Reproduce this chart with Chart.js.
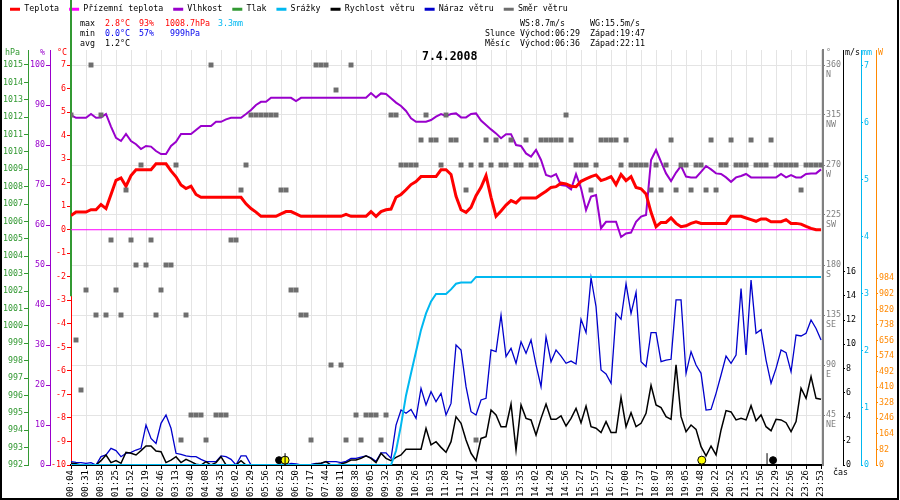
<!DOCTYPE html>
<html>
<head>
<meta charset="utf-8">
<title>Meteo 7.4.2008</title>
<script src="https://cdn.jsdelivr.net/npm/chart.js@4.4.0/dist/chart.umd.min.js"></script>
<style>
  html, body { margin: 0; padding: 0; background: #fff; }
</style>
</head>
<body>
<canvas id="meteo" width="900" height="500"></canvas>
<script>
// popisky osy X - jeden popisek na kazde 3 vzorky
const timeLabels = ['00:04','00:31','00:58','01:25','01:52','02:19','02:46','03:13','03:40','04:08',
  '04:35','05:02','05:29','05:56','06:23','06:50','07:17','07:44','08:11','08:38',
  '09:05','09:32','09:59','10:26','10:53','11:20','11:47','12:14','12:44','13:08',
  '13:35','14:02','14:29','14:56','15:27','15:57','16:27','17:00','17:37','18:07',
  '18:38','19:05','19:48','20:22','20:52','21:25','21:56','22:29','22:56','23:26','23:53'];
const SUB = 3; // vzorku na jeden popisek

// teplota (°C)
const teplota = [
  0.6, 0.75, 0.75, 0.75, 0.85, 0.85, 1.07, 0.9, 1.5, 2.1,
  2.2, 1.85, 2.3, 2.55, 2.55, 2.55, 2.55, 2.8, 2.8, 2.8,
  2.5, 2.25, 1.9, 1.75, 1.85, 1.5, 1.38, 1.38, 1.38, 1.38,
  1.38, 1.38, 1.38, 1.38, 1.38, 1.1, 0.9, 0.75, 0.57, 0.57,
  0.57, 0.57, 0.67, 0.77, 0.77, 0.67, 0.57, 0.57, 0.57, 0.57,
  0.57, 0.57, 0.57, 0.57, 0.57, 0.65, 0.57, 0.57, 0.57, 0.57,
  0.77, 0.57, 0.77, 0.85, 0.88, 1.38, 1.5, 1.7, 1.92, 2.05,
  2.26, 2.26, 2.26, 2.26, 2.55, 2.55, 2.35, 1.42, 0.85, 0.74,
  0.95, 1.45, 1.8, 2.3, 1.38, 0.57, 0.8, 1.05, 1.24, 1.14,
  1.35, 1.35, 1.35, 1.35, 1.5, 1.64, 1.8, 1.83, 1.98, 1.95,
  1.85, 1.83, 2.06, 2.16, 2.26, 2.33, 2.09, 2.16, 2.26, 1.92,
  2.35, 2.09, 2.26, 1.8, 1.74, 1.52, 0.74, 0.13, 0.31, 0.31,
  0.5, 0.27, 0.13, 0.17, 0.27, 0.34, 0.27, 0.27, 0.27, 0.27,
  0.27, 0.27, 0.57, 0.57, 0.57, 0.5, 0.43, 0.36, 0.46, 0.46,
  0.34, 0.34, 0.34, 0.43, 0.27, 0.27, 0.24, 0.14, 0.06, 0.0, 0.0
];

// prizemni teplota (°C) - po popiscich
const prizemniTeplota = [0,0,0,0,0,0,0,0,0,0, 0,0,0,0,0,0,0,0,0,0, 0,0,0,0,0,0,0,0,0,0,
  0,0,0,0,0,0,0,0,0,0, 0,0,0,0,0,0,0,0,0,0, 0];

// vlhkost (%)
const vlhkost = [
  87.5, 86.8, 86.8, 86.8, 87.75, 86.8, 86.9, 87.75, 84.6, 81.8,
  81, 82.75, 81, 80.2, 79, 79.75, 79.6, 78.5, 77.75, 77.75,
  79.75, 80.8, 82.75, 82.75, 82.75, 83.75, 84.75, 84.75, 84.75, 85.8,
  85.8, 86.4, 86.8, 86.8, 86.8, 87.75, 88.75, 90, 90.8, 90.8,
  91.8, 91.8, 91.8, 91.8, 91.8, 91, 91.8, 91.8, 91.8, 91.8,
  91.8, 91.8, 91.8, 91.8, 91.8, 91.8, 91.8, 91.8, 91.8, 91.8,
  93, 91.9, 92.9, 92.75, 91.7, 90.6, 89.75, 88.5, 86.7, 85.8,
  85.8, 85.8, 86.25, 87.1, 87.75, 87.25, 87.75, 87.9, 86.9, 86.9,
  87.75, 87.9, 86.1, 85, 83.9, 82.9, 81.7, 82.7, 82.7, 80,
  79.75, 77.9, 77.1, 78.75, 76.25, 72.5, 72.1, 72.7, 70, 69.8,
  68.9, 72.7, 69.2, 63.75, 67.1, 67.5, 59.2, 60.8, 60.8, 60.8,
  57, 57.9, 58.1, 60.8, 62.1, 62.5, 76.25, 78.75, 75.8, 72.9,
  71, 73.1, 74.75, 72.1, 71.9, 71.9, 73.3, 74.75, 73.9, 72.9,
  72.75, 71.9, 70.8, 71.9, 72.25, 72.75, 71.9, 71.9, 71.9, 71.9,
  71.9, 71.9, 72.75, 71.9, 72.5, 71.9, 71.9, 72.75, 72.9, 72.9, 73.9
];

// tlak (hPa) - jen svisla cara u prvniho vzorku
const tlakX = [0, 0];
const tlak = [1020, 1001.7];

// srazky (mm, kumulativne)
const srazky = [
  0, 0, 0, 0, 0, 0, 0, 0, 0, 0,
  0, 0, 0, 0, 0, 0, 0, 0, 0, 0,
  0, 0, 0, 0, 0, 0, 0, 0, 0, 0,
  0, 0, 0, 0, 0, 0, 0, 0, 0, 0,
  0, 0, 0, 0, 0, 0, 0, 0, 0, 0,
  0, 0, 0, 0, 0, 0, 0, 0, 0, 0,
  0, 0, 0, 0, 0, 0.25, 0.7, 1.22, 1.61, 1.99,
  2.37, 2.66, 2.87, 3.0, 3.0, 3.0, 3.08, 3.18, 3.2, 3.2,
  3.2, 3.3, 3.3, 3.3, 3.3, 3.3, 3.3, 3.3, 3.3, 3.3,
  3.3, 3.3, 3.3, 3.3, 3.3, 3.3, 3.3, 3.3, 3.3, 3.3,
  3.3, 3.3, 3.3, 3.3, 3.3, 3.3, 3.3, 3.3, 3.3, 3.3,
  3.3, 3.3, 3.3, 3.3, 3.3, 3.3, 3.3, 3.3, 3.3, 3.3,
  3.3, 3.3, 3.3, 3.3, 3.3, 3.3, 3.3, 3.3, 3.3, 3.3,
  3.3, 3.3, 3.3, 3.3, 3.3, 3.3, 3.3, 3.3, 3.3, 3.3,
  3.3, 3.3, 3.3, 3.3, 3.3, 3.3, 3.3, 3.3, 3.3, 3.3, 3.3
];

// rychlost vetru (m/s)
const rychlost = [
  0.14, 0.1, 0, 0, 0, 0, 0.36, 0.83, 0.2, 0.36,
  0.14, 1.05, 0.97, 0.83, 1.19, 1.57, 1.57, 1.16, 1.1, 0.2,
  0.41, 0.69, 0.2, 0.47, 0.28, 0.06, 0, 0.28, 0, 0.2,
  0.69, 0, 0, 0, 0.36, 0, 0, 0, 0, 0,
  0, 0, 0, 0, 0, 0, 0, 0, 0, 0.08,
  0.14, 0.28, 0, 0, 0.08, 0.2, 0.41, 0.41, 0.55, 0.75,
  0.55, 0.2, 0.97, 0.55, 0.36, 0.63, 0.83, 1.3, 1.3, 1.3,
  1.3, 3.03, 1.66, 1.93, 1.46, 1.05, 1.93, 4.0, 3.45, 2.07,
  0.97, 0.36, 2.2, 2.35, 4.55, 4.14, 3.17, 3.17, 5.05, 1.24,
  4.97, 3.86, 3.73, 2.48, 3.86, 5.05, 3.78, 3.78, 4.06, 3.23,
  3.86, 4.69, 3.5, 4.88, 3.17, 3.04, 2.68, 3.59, 2.68, 2.68,
  5.6, 3.17, 4.33, 3.17, 3.45, 4.28, 6.6, 4.97, 4.75, 4.0,
  3.78, 8.3, 4.0, 2.76, 3.31, 2.95, 1.52, 0.75, 1.57, 0.83,
  2.9, 4.5, 4.39, 3.73, 3.86, 3.73, 4.91, 3.67, 4.14, 3.17,
  2.84, 3.78, 3.73, 3.5, 2.76, 3.59, 6.35, 5.52, 7.31, 5.52, 5.44
];

// naraz vetru (m/s)
const naraz = [
  0.28, 0.22, 0.2, 0.14, 0.2, 0, 0.69, 0.83, 1.38, 1.19,
  0.69, 0.97, 1.05, 1.24, 1.38, 3.31, 2.2, 1.79, 3.45, 4.14,
  3.04, 0.97, 0.88, 0.75, 0.69, 0.69, 0.47, 0.28, 0.28, 0.28,
  0.75, 0.69, 0.47, 0, 0.75, 0.75, 0, 0, 0, 0,
  0, 0, 0, 0, 0.14, 0.1, 0, 0, 0.05, 0.14,
  0.14, 0.28, 0.28, 0.28, 0.2, 0.3, 0.55, 0.55, 0.65, 0.75,
  0.6, 0.3, 1.0, 1.0, 0.55, 3.3, 4.55, 4.28, 4.6, 3.86,
  6.35, 4.97, 6.07, 5.24, 5.93, 4.14, 5.1, 9.93, 9.52, 6.48,
  4.41, 4.14, 5.38, 5.52, 9.52, 9.38, 12.4, 8.97, 9.66, 8.42,
  10.2, 9.24, 10.35, 8.28, 6.48, 10.6, 8.55, 9.52, 9.02, 8.42,
  8.6, 8.36, 12.06, 10.95, 15.5, 13.1, 7.86, 7.53, 6.76, 12.55,
  12.06, 15.0, 12.55, 14.3, 8.55, 8.14, 10.95, 10.95, 8.55, 8.69,
  8.75, 13.66, 13.66, 7.59, 9.38, 8.28, 7.59, 4.55, 4.6, 5.93,
  7.45, 9.02, 8.42, 9.1, 14.6, 9.1, 15.3, 10.9, 11.2, 8.69,
  6.76, 8.0, 9.52, 9.3, 7.73, 10.76, 10.68, 10.9, 12.0, 11.3, 10.35
];

// smer vetru (°)
const smer = [
  315, 112.5, 67.5, 157.5, 360, 135, 315, 135, 202.5, 157.5,
  135, 247.5, 202.5, 180, 270, 180, 202.5, 135, 157.5, 180,
  180, 270, 22.5, 135, 45, 45, 45, 22.5, 360, 45,
  45, 45, 202.5, 202.5, 247.5, 270, 315, 315, 315, 315,
  315, 315, 247.5, 247.5, 157.5, 157.5, 135, 135, 22.5, 360,
  360, 360, 90, 337.5, 90, 22.5, 360, 45, 22.5, 45,
  45, 45, 22.5, 45, 315, 315, 270, 270, 270, 270,
  292.5, 315, 292.5, 292.5, 270, 315, 292.5, 292.5, 270, 247.5,
  270, 22.5, 270, 292.5, 270, 292.5, 270, 270, 292.5, 270,
  270, 292.5, 270, 270, 292.5, 292.5, 292.5, 292.5, 292.5, 315,
  292.5, 270, 270, 270, 247.5, 270, 292.5, 292.5, 292.5, 292.5,
  270, 292.5, 270, 270, 270, 270, 247.5, 270, 247.5, 270,
  292.5, 247.5, 270, 270, 247.5, 270, 270, 247.5, 292.5, 247.5,
  270, 270, 292.5, 270, 270, 270, 292.5, 270, 270, 270,
  292.5, 270, 270, 270, 270, 270, 247.5, 270, 270, 270, 270
];

// znacky slunce a mesice (pozice ve vzorcich popisku, m/s)
const znackyX = [13.87, 14.27, 14.27, 42.05, 46.4, 46.8];
const znackyY = [0.4, 0.4, 0.4, 0.4, 0.4, 0.4];

// hodnoty popisku os
const hpaTicks = [992,993,994,995,996,997,998,999,1000,1001,1002,1003,1004,1005,1006,1007,1008,1009,1010,1011,1012,1013,1014,1015];
const humTicks = [0,10,20,30,40,50,60,70,80,90,100];
const tempTicks = [-10,-9,-8,-7,-6,-5,-4,-3,-2,-1,0,1,2,3,4,5,6,7];
const dirTicks = [45,90,135,180,225,270,315,360];
const dirNames = ['', 'NE', 'E', 'SE', 'S', 'SW', 'W', 'NW', 'N'];
const speedTicks = [0,2,4,6,8,10,12,14,16];
const rainTicks = [0,1,2,3,4,5,6,7];
const wattTicks = [0,82,164,246,328,410,492,574,656,738,820,902,984];

// texty nahore
const statLabels = ['max', 'min', 'avg'];
const statTemp = ['2.8°C', '0.0°C', '1.2°C'];
const statHum = ['93%', '57%'];
const statPress = ['1008.7hPa', '999hPa'];
const statRain = '3.3mm';
const windInfo = ['WS:8.7m/s', 'WG:15.5m/s'];
const sunInfo = ['Slunce', 'Východ:06:29', 'Západ:19:47'];
const moonInfo = ['Měsíc', 'Východ:06:36', 'Západ:22:11'];
const dateTitle = '7.4.2008';

const MONO = '"DejaVu Sans Mono", monospace';
const smallFont = { family: MONO, size: 8.3 };

const C_RED = '#ff0000', C_MAG = '#ff00ff', C_PUR = '#9900cc', C_GRN = '#339933';
const C_CYAN = '#00b8f0', C_BLUE = '#0000cc', C_GRAY = '#6e6e6e', C_ORG = '#ff8800';

function pts(arr) {
  return arr.map((v, k) => ({ x: k / SUB, y: v }));
}

function yAxis(position, weight, color, min, max, values, width) {
  return {
    type: 'linear', position, weight, min, max,
    afterBuildTicks: s => { s.ticks = values.map(v => ({ value: v })); },
    afterFit: s => { s.width = width; },
    grid: { drawOnChartArea: false, tickLength: position === 'left' ? 4 : 2, tickColor: color },
    border: { color, width: 1 },
    ticks: { color, font: smallFont, padding: 1, autoSkip: false, callback: v => String(v) }
  };
}

// popisky, ktere nejsou soucasti os ani legendy
const texty = {
  id: 'texty',
  afterDraw(chart) {
    const ctx = chart.ctx;
    ctx.save();
    ctx.textBaseline = 'middle';
    ctx.textAlign = 'left';
    ctx.font = '8.3px ' + MONO;
    const rowY = [24, 34, 44];
    const rowCol = [C_RED, '#0000ee', '#000'];
    statLabels.forEach((t, r) => { ctx.fillStyle = '#000'; ctx.fillText(t, 80, rowY[r]); });
    statTemp.forEach((t, r) => { ctx.fillStyle = rowCol[r]; ctx.fillText(t, 105, rowY[r]); });
    statHum.forEach((t, r) => { ctx.fillStyle = rowCol[r]; ctx.fillText(t, 139, rowY[r]); });
    statPress.forEach((t, r) => { ctx.fillStyle = rowCol[r]; ctx.fillText(t, r === 0 ? 165 : 170, rowY[r]); });
    ctx.fillStyle = C_CYAN;
    ctx.fillText(statRain, 218, rowY[0]);

    ctx.fillStyle = '#000';
    ctx.fillText(windInfo[0], 520, rowY[0]);
    ctx.fillText(windInfo[1], 590, rowY[0]);
    [sunInfo, moonInfo].forEach((row, r) => {
      ctx.fillText(row[0], 485, rowY[r + 1]);
      ctx.fillText(row[1], 520, rowY[r + 1]);
      ctx.fillText(row[2], 590, rowY[r + 1]);
    });

    // jednotky nad osami
    const units = [['hPa', C_GRN, 5], ['%', C_PUR, 40], ['°C', C_RED, 57],
      ['°', '#808080', 826], ['m/s', '#000', 845], ['mm', C_CYAN, 862], ['W', C_ORG, 878]];
    units.forEach(u => { ctx.fillStyle = u[1]; ctx.fillText(u[0], u[2], 53); });
    ctx.fillStyle = '#000';
    ctx.fillText('čas', 833, 473);

    // datum
    ctx.font = 'bold 11.5px ' + MONO;
    ctx.fillText(dateTitle, 422, 57);

    // ramecek
    ctx.strokeStyle = '#000';
    ctx.lineWidth = 2;
    ctx.beginPath();
    ctx.moveTo(1, 0); ctx.lineTo(1, 499);
    ctx.lineTo(898, 499); ctx.lineTo(898, 0);
    ctx.stroke();
    ctx.restore();
  }
};

Chart.defaults.font.family = MONO;
Chart.defaults.color = '#000';

new Chart(document.getElementById('meteo'), {
  type: 'line',
  data: {
    datasets: [
      { label: 'Teplota', data: pts(teplota), yAxisID: 'yT', borderColor: C_RED, backgroundColor: C_RED, borderWidth: 3, order: 2 },
      { label: 'Přízemní teplota', data: prizemniTeplota.map((v, i) => ({ x: i, y: v })), yAxisID: 'yT', borderColor: C_MAG, backgroundColor: C_MAG, borderWidth: 1, order: 4 },
      { label: 'Vlhkost', data: pts(vlhkost), yAxisID: 'yH', borderColor: C_PUR, backgroundColor: C_PUR, borderWidth: 2, order: 3 },
      { label: 'Tlak', data: tlak.map((v, i) => ({ x: tlakX[i], y: v })), yAxisID: 'yP', borderColor: C_GRN, backgroundColor: C_GRN, borderWidth: 2, clip: false, order: 8 },
      { label: 'Srážky', data: pts(srazky), yAxisID: 'yMM', borderColor: C_CYAN, backgroundColor: C_CYAN, borderWidth: 2, order: 5 },
      { label: 'Rychlost větru', data: pts(rychlost), yAxisID: 'yS', borderColor: '#000', backgroundColor: '#000', borderWidth: 1.5, order: 6 },
      { label: 'Náraz větru', data: pts(naraz), yAxisID: 'yS', borderColor: C_BLUE, backgroundColor: C_BLUE, borderWidth: 1.3, order: 7 },
      { label: 'Směr větru', data: pts(smer), yAxisID: 'yD', showLine: false, borderColor: C_GRAY, backgroundColor: C_GRAY,
        pointStyle: 'rect', pointRadius: 3.5, pointBorderWidth: 0, pointBackgroundColor: C_GRAY, order: 1 },
      { label: '', data: znackyX.map((x, i) => ({ x, y: znackyY[i] })), yAxisID: 'yS', showLine: false, order: 0,
        pointStyle: ['circle', 'circle', 'line', 'circle', 'line', 'circle'],
        pointRadius: [3.5, 4, 7, 4, 7, 3.5],
        pointRotation: [0, 0, 90, 0, 90, 0],
        pointBackgroundColor: ['#000', '#ffff00', '#000', '#ffff00', '#000', '#000'],
        pointBorderColor: '#000', pointBorderWidth: 1 }
    ]
  },
  options: {
    responsive: false,
    animation: false,
    layout: { padding: { top: -5, left: 0, right: 0, bottom: 0 }, autoPadding: false },
    elements: { point: { radius: 0 }, line: { tension: 0 } },
    plugins: {
      legend: {
        position: 'top', align: 'start', weight: 3000,
        labels: {
          boxWidth: 10, boxHeight: 3, padding: 10, color: '#000', font: smallFont,
          filter: item => item.text !== '',
          sort: (a, b) => a.datasetIndex - b.datasetIndex,
          generateLabels: chart => Chart.defaults.plugins.legend.labels.generateLabels(chart)
            .map(it => Object.assign(it, { fillStyle: it.strokeStyle, lineWidth: 0 }))
        }
      },
      title: { display: true, text: '', font: { size: 10, lineHeight: 1.2 }, padding: { top: 0, bottom: 14.7 } },
      tooltip: { enabled: false }
    },
    scales: {
      x: {
        type: 'linear', min: 0, max: 50.13,
        afterBuildTicks: s => { s.ticks = timeLabels.map((t, i) => ({ value: i })); },
        afterFit: s => { s.height = 35; },
        grid: { color: '#e4e4e4', tickLength: 4, tickColor: '#000' },
        border: { color: '#000', width: 2 },
        ticks: { autoSkip: false, maxRotation: 90, minRotation: 90, padding: 1, color: '#000',
          font: { family: MONO, size: 9 }, callback: v => timeLabels[v] }
      },
      yP: yAxis('left', 3, C_GRN, 992, 1015.86, hpaTicks, 28),
      yH: yAxis('left', 2, C_PUR, 0, 103.75, humTicks, 22),
      yT: yAxis('left', 1, C_RED, -10, 7.64, tempTicks, 21),
      yD: {
        type: 'linear', position: 'right', weight: 1, min: 0, max: 373.5,
        afterBuildTicks: s => { s.ticks = dirTicks.map(v => ({ value: v })); },
        afterFit: s => { s.width = 20; },
        grid: { drawOnChartArea: true, color: '#e4e4e4', tickLength: 2, tickColor: '#808080' },
        border: { color: '#808080', width: 2 },
        ticks: { color: '#808080', font: smallFont, padding: 1, labelOffset: 5, autoSkip: false,
          callback: v => [String(v), dirNames[v / 45]] }
      },
      yS: yAxis('right', 2, '#000', 0, 34.35, speedTicks, 18),
      yMM: yAxis('right', 3, C_CYAN, 0, 7.28, rainTicks, 15),
      yWatt: yAxis('right', 4, C_ORG, 0, 2187, wattTicks, 24)
    }
  },
  plugins: [texty]
});
</script>
</body>
</html>
